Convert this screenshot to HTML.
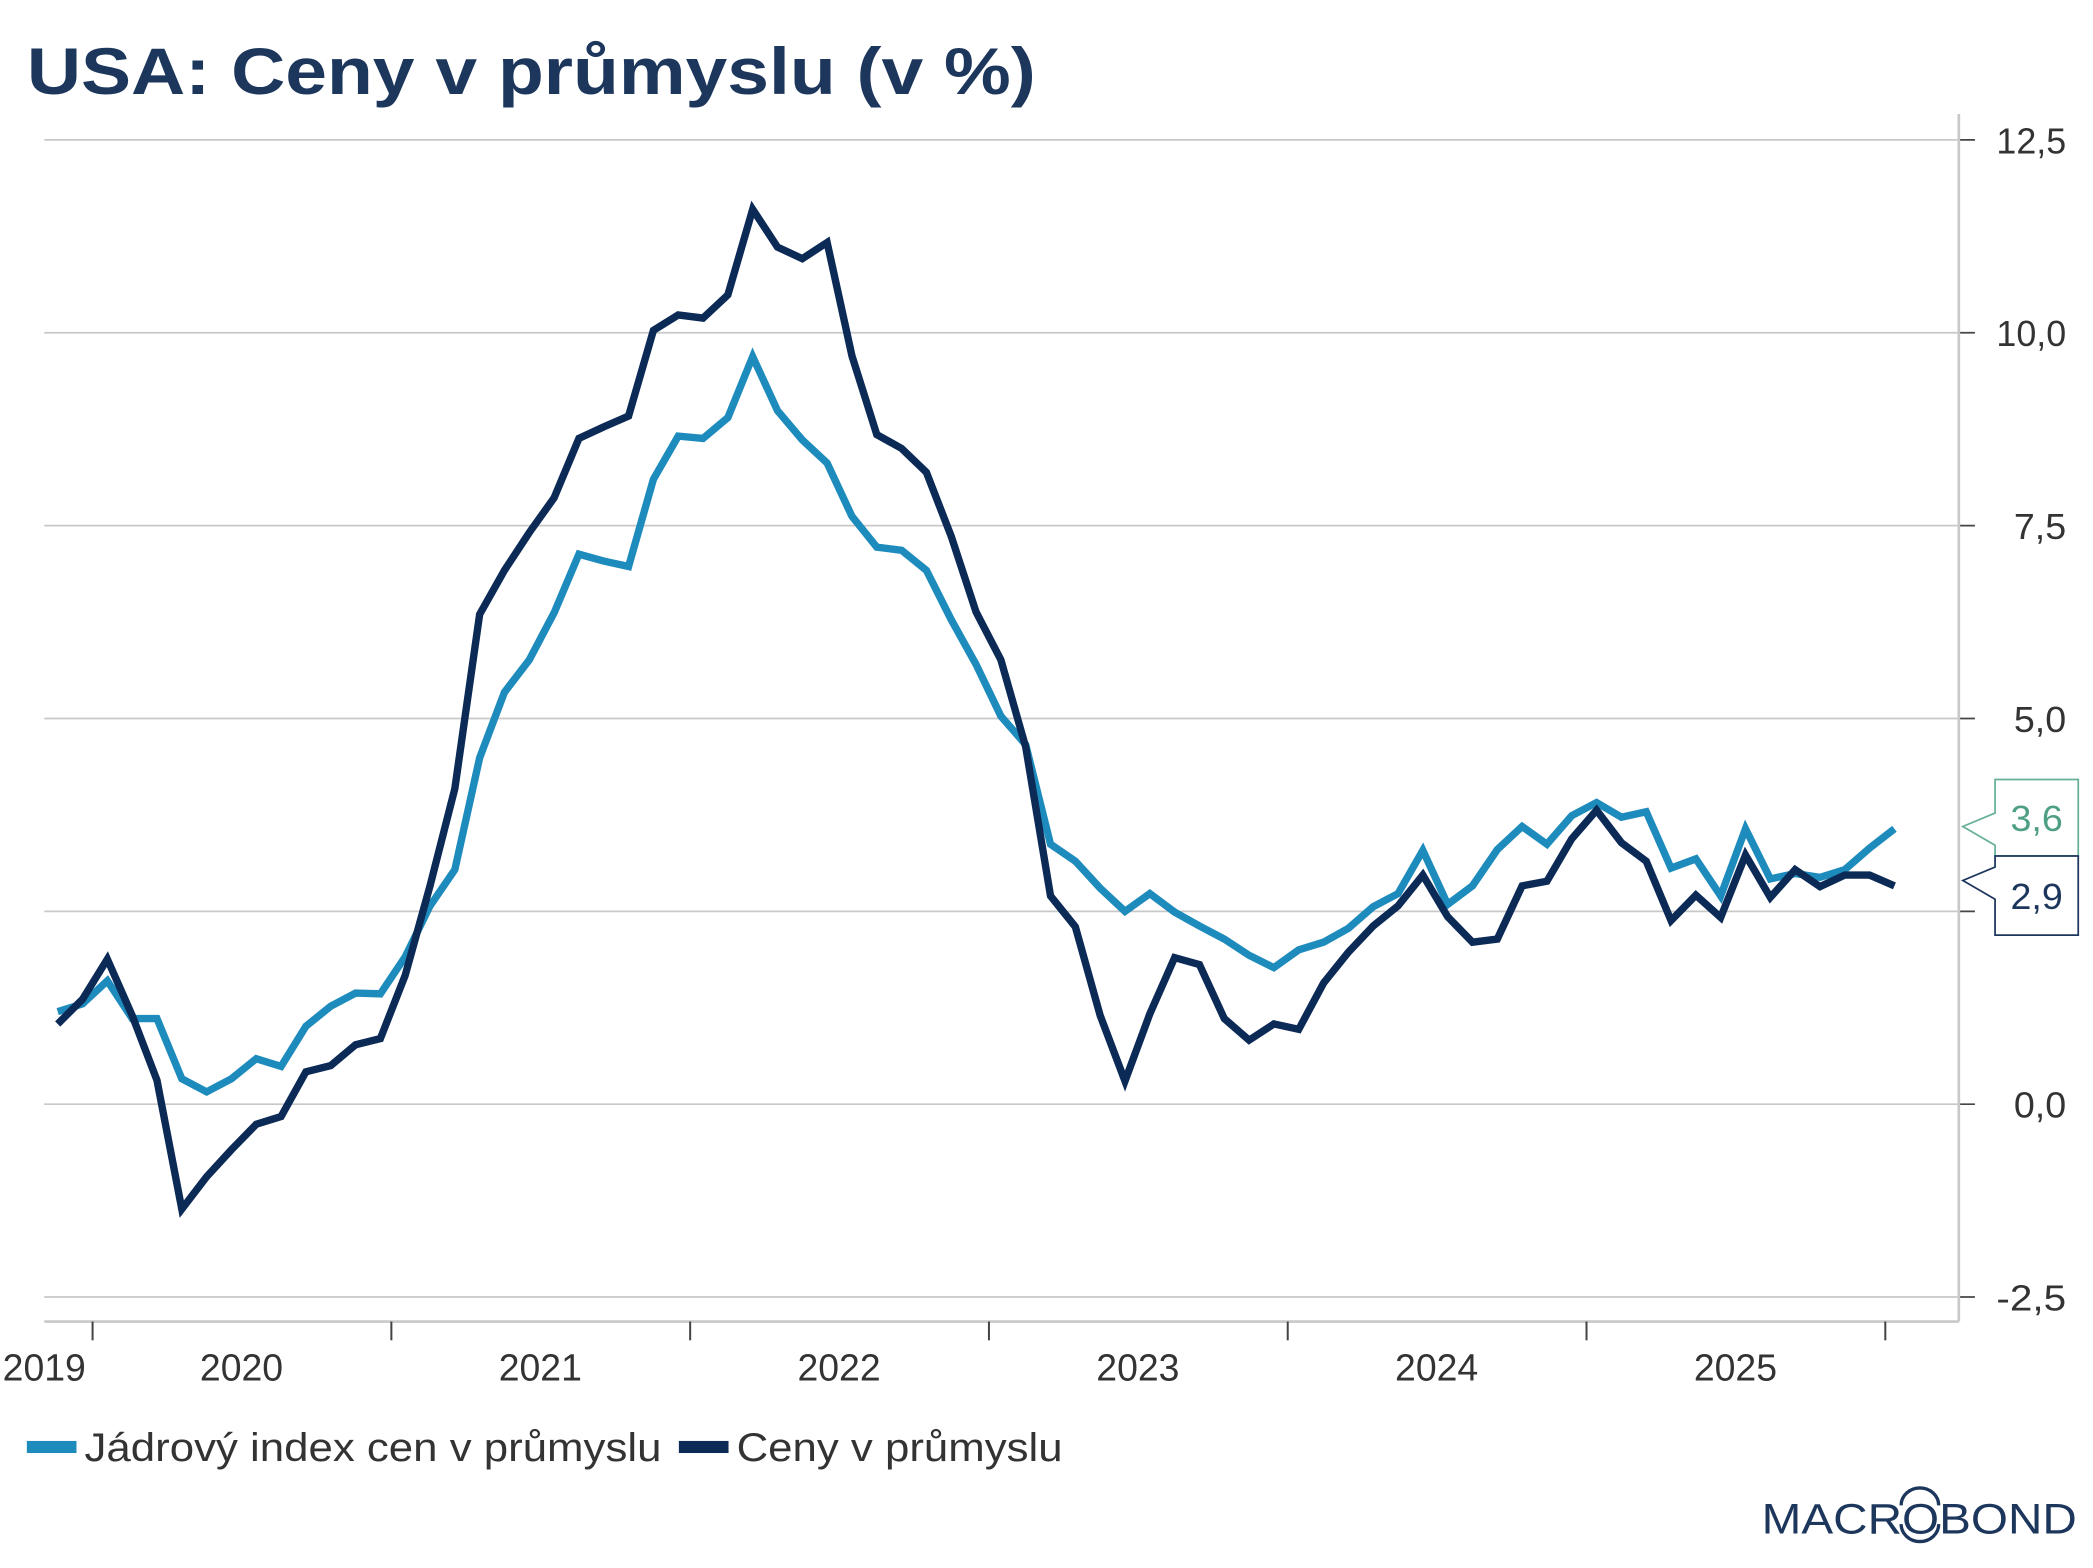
<!DOCTYPE html>
<html><head><meta charset="utf-8"><style>
html,body{margin:0;padding:0;background:#fff;}
svg{display:block;}
text{font-family:"Liberation Sans",Arial,sans-serif;}
</style></head><body>
<svg id="chart" width="2093" height="1568" viewBox="0 0 1560 1168.7" xmlns="http://www.w3.org/2000/svg">
<text x="20" y="70" font-size="49" font-weight="bold" fill="#1c365c" textLength="752" lengthAdjust="spacingAndGlyphs">USA: Ceny v průmyslu (v %)</text>
<g id="grid"></g>
<g id="axes"></g>
<g id="series"></g>
<g id="callouts"></g>
<g>
  <rect x="20" y="1074" width="37" height="9" fill="#1e8bbd"/>
  <text x="63" y="1089" font-size="30" fill="#333" textLength="430" lengthAdjust="spacingAndGlyphs">Jádrový index cen v průmyslu</text>
  <rect x="506" y="1074" width="37" height="9" fill="#0c2a56"/>
  <text x="549" y="1089" font-size="30" fill="#333" textLength="243" lengthAdjust="spacingAndGlyphs">Ceny v průmyslu</text>
</g>
<g>
  <text x="1313" y="1143" font-size="32" fill="#1c365c" textLength="235" lengthAdjust="spacingAndGlyphs">MACROBOND</text>
  <path d="M1417 1122 a14 13 0 0 1 28 0 M1417 1136 a14 13 0 0 0 28 0" fill="none" stroke="#1c365c" stroke-width="2.5"/>
</g>
</svg>
<script>
const categoriesStart = "2019-11";
const yTicks = [12.5, 10.0, 7.5, 5.0, 2.5, 0.0, -2.5];
const yTickLabels = ["12,5","10,0","7,5","5,0","","0,0","-2,5"];
const yearLabels = ["2019","2020","2021","2022","2023","2024","2025"];
const coreValues = [1.2,1.3,1.6,1.11,1.11,0.33,0.16,0.33,0.59,0.49,1.01,1.27,1.44,1.43,1.91,2.57,3.04,4.49,5.34,5.76,6.37,7.13,7.04,6.97,8.1,8.66,8.63,8.9,9.69,8.99,8.61,8.31,7.62,7.22,7.18,6.92,6.28,5.7,5.03,4.66,3.37,3.15,2.8,2.5,2.73,2.49,2.31,2.14,1.93,1.77,2.0,2.1,2.28,2.56,2.73,3.29,2.59,2.83,3.3,3.6,3.37,3.74,3.91,3.72,3.79,3.06,3.18,2.7,3.57,2.92,2.99,2.94,3.04,3.32,3.57];
const ppiValues = [1.04,1.36,1.88,1.15,0.31,-1.36,-0.94,-0.59,-0.26,-0.16,0.42,0.5,0.77,0.85,1.67,2.83,4.09,6.35,6.92,7.41,7.86,8.63,8.78,8.92,10.03,10.23,10.19,10.49,11.6,11.11,10.96,11.17,9.7,8.68,8.5,8.19,7.36,6.38,5.76,4.63,2.7,2.3,1.15,0.3,1.17,1.9,1.81,1.11,0.83,1.04,0.97,1.57,1.97,2.31,2.57,2.97,2.43,2.1,2.14,2.83,2.89,3.44,3.81,3.39,3.15,2.38,2.71,2.42,3.23,2.68,3.04,2.82,2.97,2.97,2.83];
const coreLast = ["3,6"];
const ppiLast = ["2,9"];

const NS="http://www.w3.org/2000/svg";
const L=33,R=1460,T=85,B=985;
function y(v){return 823-57.5*v;}
function x(i){return 43+i*18.5;}
function mk(tag,attrs,parent){const e=document.createElementNS(NS,tag);for(const k in attrs)e.setAttribute(k,attrs[k]);parent.appendChild(e);return e;}
const grid=document.getElementById('grid'),axes=document.getElementById('axes'),series=document.getElementById('series'),call=document.getElementById('callouts');
yTicks.forEach((v,k)=>{
  const ln=mk('line',{x1:L,x2:R,y1:y(v),y2:y(v),stroke:'#c8c8c8','stroke-width':1.3},grid);
  
  
  mk('line',{x1:R,x2:R+12,y1:y(v),y2:y(v),stroke:'#444','stroke-width':1.3},axes);
  const lab=yTickLabels[k];
  if(lab){
    const t=mk('text',{x:1540,y:y(v)+10,'font-size':27,fill:'#333','text-anchor':'end',textLength:lab.length*13,lengthAdjust:'spacingAndGlyphs'},axes);
    
    
    t.textContent=lab;
  }
});
mk('line',{x1:R,x2:R,y1:T,y2:B,stroke:'#c8c8c8','stroke-width':2},axes);
mk('line',{x1:L,x2:R,y1:B,y2:B,stroke:'#c8c8c8','stroke-width':2},axes);
for(let k=0;k<7;k++){
  const tx=69+k*222.7;
  mk('line',{x1:tx,x2:tx,y1:B,y2:B+14,stroke:'#444','stroke-width':1.5},axes);
}
yearLabels.forEach((s,k)=>{
  const cx=k===0?33:69+(k-1)*222.7+111;
  const t=mk('text',{x:cx,y:1029,'font-size':28,fill:'#333','text-anchor':'middle',textLength:62,lengthAdjust:'spacingAndGlyphs'},axes);
  
  
  t.textContent=s;
});
function line(vals,color,name){
  const p=mk('polyline',{points:vals.map((v,i)=>x(i)+','+y(v)).join(' '),fill:'none',stroke:color,'stroke-width':5.5,'stroke-linejoin':'miter','stroke-miterlimit':3},series);
  
  
}
line(coreValues,'#1e8bbd','core-ppi-line');
line(ppiValues,'#0c2a56','ppi-line');
function callout(v,label,top,h,color,txtColor,name){
  const yy=y(v);
  const g=mk('g',{},call);
  
  
  const bx=1487,bw=62;
  mk('path',{d:`M${bx} ${top} H${bx+bw} V${top+h} H${bx} V${Math.min(top+h,yy+14)} L1463 ${yy} L${bx} ${Math.max(top,yy-10)} Z`,fill:'#fff',stroke:color,'stroke-width':1.3},g);
  const t=mk('text',{x:bx+bw/2,y:top+h/2+10,'font-size':27,fill:txtColor,'text-anchor':'middle',textLength:39,lengthAdjust:'spacingAndGlyphs'},g);
  t.textContent=label;
}
callout(3.6,coreLast[0],581,57,'#66b09a','#4f9e86','core-last-value');
callout(2.9,ppiLast[0],638,59,'#1c365c','#1c365c','ppi-last-value');
</script>
</body></html>
